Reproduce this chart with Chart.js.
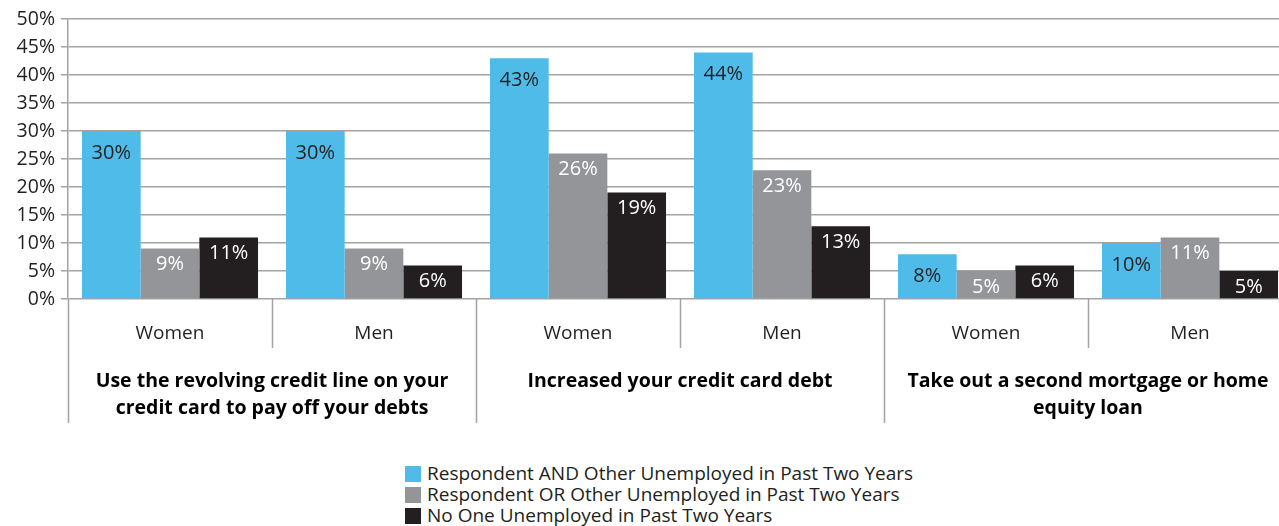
<!DOCTYPE html>
<html>
<head>
<meta charset="utf-8">
<script src="https://cdn.jsdelivr.net/npm/chart.js@4"></script>
<style>
  html, body { margin: 0; padding: 0; background: #fff; overflow: hidden; width: 1279px; height: 526px; }
  #wrap { position: relative; width: 1279px; height: 526px; overflow: hidden; }
  #chart { position: absolute; left: 0; top: 0; }
  #legend { position: absolute; left: 405px; top: 463px; font-family: "Open Sans", sans-serif; font-size: 19px; color: #231f20; }
  #legend div { height: 21px; line-height: 21px; white-space: nowrap; }
  #legend span { display: inline-block; width: 16px; height: 16px; margin-right: 6px; vertical-align: -2px; }
</style>
</head>
<body>
<div id="wrap">
  <canvas id="chart" width="1292" height="440"></canvas>
  <div id="legend"></div>
</div>
<script>
const categories = ['Women', 'Men', 'Women', 'Men', 'Women', 'Men'];
const groupLabels = [
    ['Use the revolving credit line on your', 'credit card to pay off your debts'],
    ['Increased your credit card debt'],
    ['Take out a second mortgage or home', 'equity loan']
];
const seriesNames = [
    'Respondent AND Other Unemployed in Past Two Years',
    'Respondent OR Other Unemployed in Past Two Years',
    'No One Unemployed in Past Two Years'
];
const bothUnemployed = [30, 30, 43, 44, 8, 10];
const eitherUnemployed = [9, 9, 26, 23, 5, 11];
const noneUnemployed = [11, 6, 19, 13, 6, 5];

const colors = ['#4fbbe9', '#939598', '#231f20'];
const labelColors = ['#231f20', '#ffffff', '#ffffff'];
const labelOffsets = [22, 16, 16];
const lineColor = '#a3a3a3';
const fontFamily = '"Open Sans", sans-serif';

// value labels inside the top of each bar
const barLabels = {
    id: 'barLabels',
    afterDatasetsDraw(chart) {
        const ctx = chart.ctx;
        ctx.save();
        ctx.font = '20px ' + fontFamily;
        ctx.textAlign = 'center';
        ctx.textBaseline = 'middle';
        chart.data.datasets.forEach((ds, i) => {
            chart.getDatasetMeta(i).data.forEach((bar, j) => {
                ctx.fillStyle = labelColors[i];
                ctx.fillText(ds.data[j] + '%', bar.x, bar.y + labelOffsets[i]);
            });
        });
        ctx.restore();
    }
};

// separators below the axis and the bold group titles
const groupAxis = {
    id: 'groupAxis',
    afterDraw(chart) {
        const ctx = chart.ctx;
        const area = chart.chartArea;
        const step = (area.right - area.left) / categories.length;
        ctx.save();
        ctx.strokeStyle = lineColor;
        ctx.lineWidth = 1.5;
        for (let i = 0; i < categories.length; i++) {
            const sx = Math.round(area.left + i * step) + 0.5;
            const long = i % 2 === 0;
            ctx.beginPath();
            ctx.moveTo(sx, area.bottom);
            ctx.lineTo(sx, long ? 423 : 348);
            ctx.stroke();
        }
        ctx.fillStyle = '#000';
        ctx.font = 'bold 19.5px ' + fontFamily;
        ctx.textAlign = 'center';
        ctx.textBaseline = 'middle';
        groupLabels.forEach((lines, g) => {
            const cx = area.left + (g * 2 + 1) * step;
            lines.forEach((t, k) => ctx.fillText(t, cx, 381 + k * 27));
        });
        ctx.restore();
    }
};

const chart = new Chart(document.getElementById('chart'), {
    type: 'bar',
    data: {
        labels: categories,
        datasets: [bothUnemployed, eitherUnemployed, noneUnemployed].map((d, i) => ({
            label: seriesNames[i],
            data: d,
            backgroundColor: colors[i],
            borderWidth: 0,
            barPercentage: 1,
            categoryPercentage: 0.863
        }))
    },
    options: {
        responsive: false,
        animation: false,
        layout: { padding: { top: 19, right: 0, left: 0, bottom: 0 } },
        plugins: {
            legend: { display: false },
            tooltip: { enabled: false }
        },
        scales: {
            x: {
                grid: { display: false },
                border: { display: false },
                ticks: { color: '#231f20', font: { family: fontFamily, size: 19 }, padding: 15 },
                afterFit(scale) { scale.height = 141; }
            },
            y: {
                min: 0,
                max: 50,
                ticks: {
                    stepSize: 5,
                    color: '#231f20',
                    font: { family: fontFamily, size: 19.5 },
                    padding: 6,
                    callback: v => v + '%'
                },
                grid: { color: lineColor, lineWidth: 1.5, tickLength: 7 },
                border: { color: lineColor, width: 1.5 },
                afterFit(scale) { scale.width = 68; }
            }
        }
    },
    plugins: [barLabels, groupAxis]
});

// legend list beneath the chart
document.getElementById('legend').innerHTML = seriesNames
    .map((n, i) => '<div><span style="background:' + colors[i] + '"></span>' + n + '</div>')
    .join('');
</script>
</body>
</html>
